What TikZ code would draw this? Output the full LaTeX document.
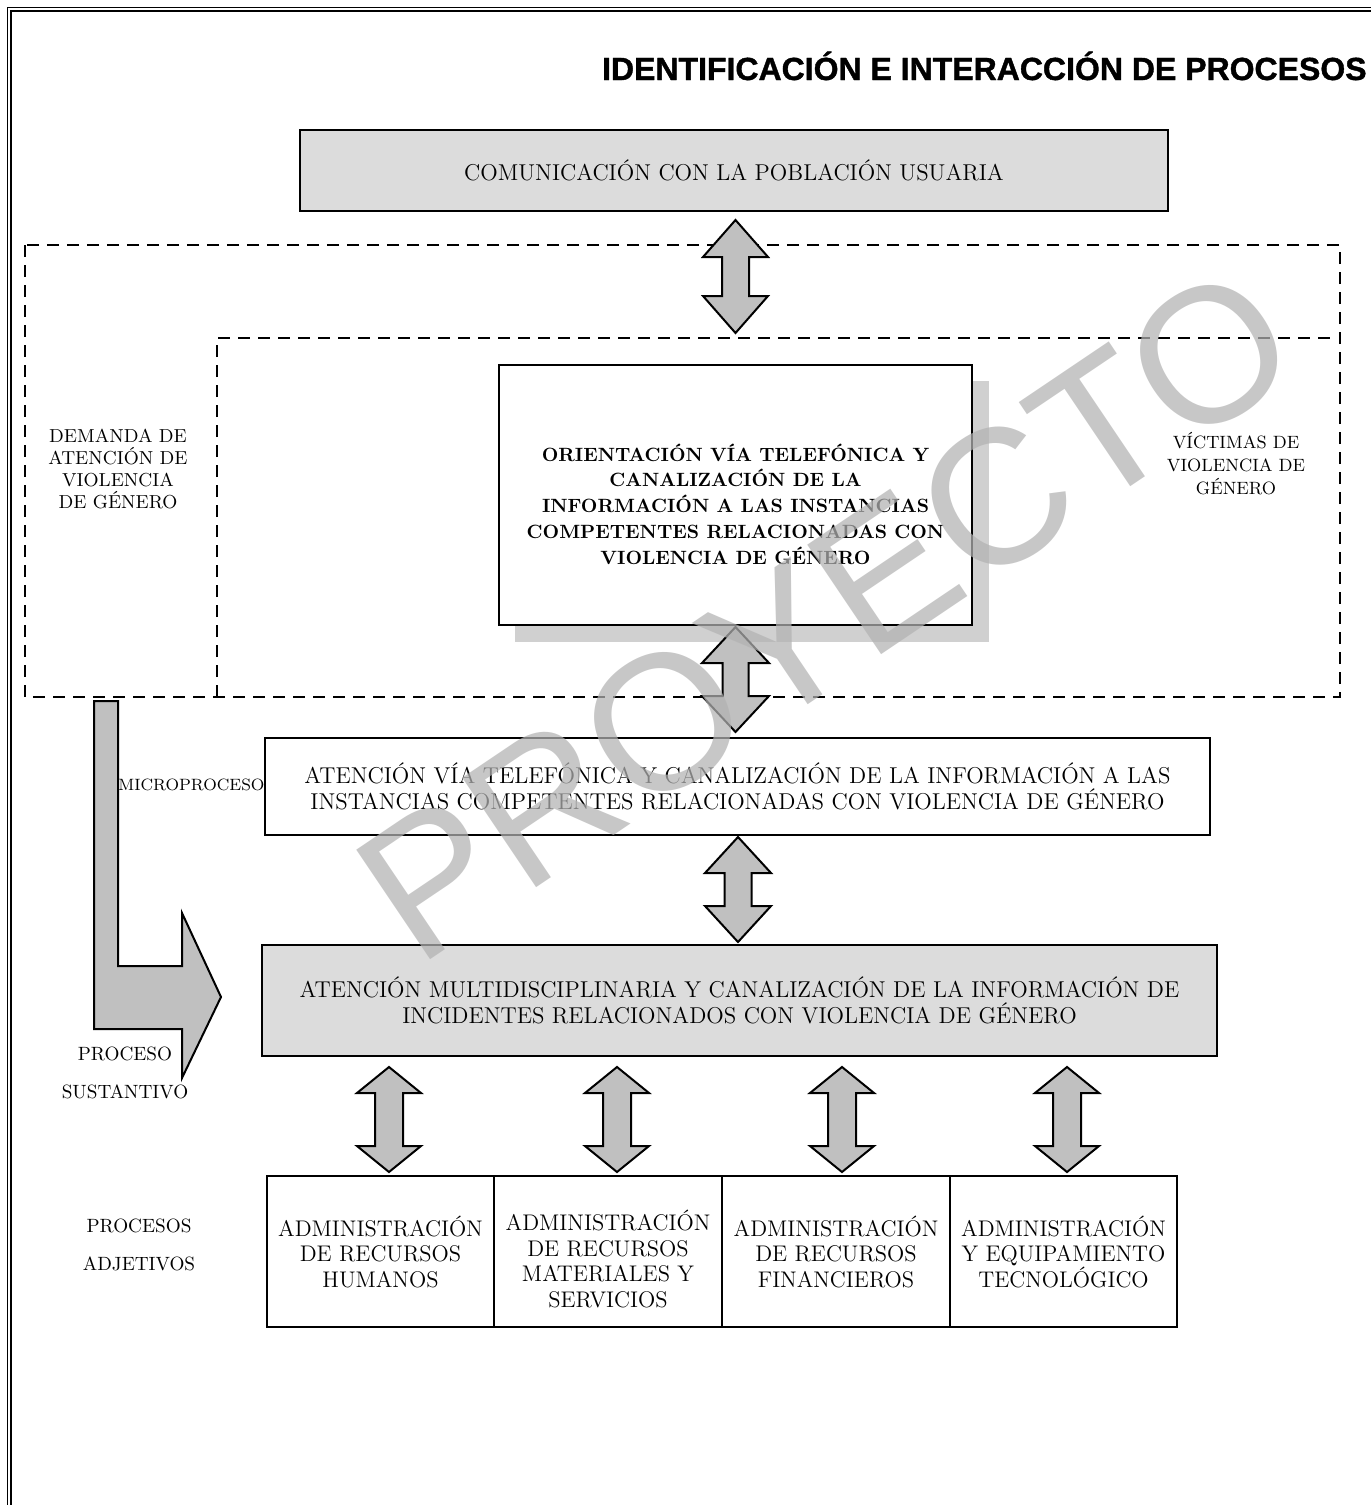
\documentclass[tikz,border=0pt]{standalone}
\usepackage{fontspec}
\newfontfamily\titlefont{Liberation Sans}[BoldFeatures={FakeBold=1.2}]
\newfontfamily\wmfont{Liberation Sans}
\usetikzlibrary{calc}
\definecolor{boxgray}{HTML}{DCDCDC}
\definecolor{arrgray}{HTML}{C0C0C0}
\definecolor{shadowgray}{HTML}{D0D0D0}
\definecolor{wmgray}{HTML}{B2B2B2}
% double-headed block arrow: #1 centre x, #2 top y, #3 bottom y, #4 head height, #5 head half width, #6 shaft half width
\newcommand\dblarr[6]{%
  \draw[blockarrow] (#1,#2) -- (#1+#5,#2+#4) -- (#1+#6,#2+#4) -- (#1+#6,#3-#4) -- (#1+#5,#3-#4)
    -- (#1,#3) -- (#1-#5,#3-#4) -- (#1-#6,#3-#4) -- (#1-#6,#2+#4) -- (#1-#5,#2+#4) -- cycle;}
\begin{document}
\begin{tikzpicture}[x=0.5pt,y=-0.5pt,
  frameline/.style={line width=0.6pt},
  dashbox/.style={line width=1.3pt, dash pattern=on 6pt off 4pt},
  graybox/.style={draw, line width=1.2pt, fill=boxgray, align=center, inner sep=0pt,
    font=\fontsize{11.45}{13}\selectfont},
  whitebox/.style={draw, line width=1.2pt, fill=white, align=center, inner sep=0pt,
    font=\fontsize{11.45}{13}\selectfont},
  admbox/.style={draw, line width=1.2pt, fill=white, align=center, inner sep=0pt,
    minimum height=75.5pt, font=\fontsize{11.3}{12.75}\selectfont},
  admtext/.style={align=center, inner sep=0pt, font=\fontsize{11.3}{12.75}\selectfont},
  sidelabel/.style={align=center, inner sep=0pt},
  blockarrow/.style={draw, line width=1pt, fill=arrgray, line join=miter},
  wm/.style={text=wmgray, text opacity=0.72, inner sep=0pt,
    font=\wmfont\fontsize{96}{96}\selectfont}
]
\useasboundingbox (0,0) rectangle (1371,1505);
\clip (0,0) rectangle (1371,1505);

% outer double frame
\draw[frameline] (7.5,1520) -- (7.5,7.5) -- (1390,7.5);
\draw[frameline] (11,1520) -- (11,11) -- (1390,11);

% title
\node[anchor=base east, inner sep=0pt, font=\titlefont\bfseries\fontsize{16}{19}\selectfont]
  (title) at (1367,80) {IDENTIFICACIÓN E INTERACCIÓN DE PROCESOS};

% dashed regions
\draw[dashbox] (25,245) rectangle (1340,697);
\draw[dashbox] (217,697) -- (217,338) -- (1333,338);

% top box
\node[graybox, line width=1.4pt, minimum width=434pt, minimum height=40.5pt] (comm) at (734,170.5)
  {COMUNICACIÓN CON LA POBLACIÓN USUARIA};

% shadowed central box
\fill[shadowgray] (515,381) rectangle (989,642);
\node[draw, line width=0.8pt, fill=white, minimum width=236.5pt, minimum height=130pt, inner sep=0pt]
  (orient) at (735.5,495) {};
\node[align=center, inner sep=0pt, font=\bfseries\fontsize{9.6}{12.9}\selectfont]
  (orienttext) at (735.5,504)
  {ORIENTACIÓN VÍA TELEFÓNICA Y\\CANALIZACIÓN DE LA\\INFORMACIÓN A LAS INSTANCIAS\\COMPETENTES RELACIONADAS CON\\VIOLENCIA DE GÉNERO};

% micro process box
\node[whitebox, minimum width=472.5pt, minimum height=48.5pt] (aten) at (737.5,786.5)
  {ATENCIÓN VÍA TELEFÓNICA Y CANALIZACIÓN DE LA INFORMACIÓN A LAS\\INSTANCIAS COMPETENTES RELACIONADAS CON VIOLENCIA DE GÉNERO};

% substantive process box
\node[graybox, minimum width=477.5pt, minimum height=55.5pt] (multi) at (739.5,1000.5)
  {ATENCIÓN MULTIDISCIPLINARIA Y CANALIZACIÓN DE LA INFORMACIÓN DE\\INCIDENTES RELACIONADOS CON VIOLENCIA DE GÉNERO};

% support processes
\node[admbox, minimum width=113.5pt] (adm1) at (380.5,1251.5) {ADMINISTRACIÓN\\DE RECURSOS\\HUMANOS};
\node[admbox, minimum width=114pt] (adm2) at (608,1251.5) {};
\node[admtext] (adm2text) at (608,1259) {ADMINISTRACIÓN\\DE RECURSOS\\MATERIALES Y\\SERVICIOS};
\node[admbox, minimum width=114pt] (adm3) at (836,1251.5) {ADMINISTRACIÓN\\DE RECURSOS\\FINANCIEROS};
\node[admbox, minimum width=113.5pt] (adm4) at (1063.5,1251.5) {ADMINISTRACIÓN\\Y EQUIPAMIENTO\\TECNOLÓGICO};

% double block arrows
\dblarr{735.5}{220}{333}{37}{32.5}{13.5}
\dblarr{735.5}{627}{732}{36}{33.5}{13}
\dblarr{738}{837}{942}{36}{33}{13.5}
\dblarr{389}{1067}{1172}{26}{32}{14}
\dblarr{617}{1067}{1172}{26}{32}{14}
\dblarr{842}{1067}{1172}{26}{32}{14}
\dblarr{1067}{1067}{1172}{26}{32}{14}

% bent arrow
\draw[blockarrow] (94,701) -- (118,701) -- (118,966) -- (182,966) -- (182,913) -- (221,997)
  -- (182,1078) -- (182,1029) -- (94,1029) -- cycle;

% side labels
\node[sidelabel, font=\fontsize{9.4}{11}\selectfont] (demanda) at (118,469)
  {DEMANDA DE\\ATENCIÓN DE\\VIOLENCIA\\DE GÉNERO};
\node[sidelabel, font=\fontsize{8.9}{11.5}\selectfont] (victimas) at (1236,464)
  {VÍCTIMAS DE\\VIOLENCIA DE\\GÉNERO};
\node[sidelabel, anchor=west, font=\fontsize{8.2}{10}\selectfont] (micro) at (118,785) {MICROPROCESO};
\node[sidelabel, font=\fontsize{9.6}{19}\selectfont] (sust) at (125,1073) {PROCESO\\SUSTANTIVO};
\node[sidelabel, font=\fontsize{9.6}{19}\selectfont] (adjet) at (139,1245) {PROCESOS\\ADJETIVOS};

% watermark
\node[wm, rotate=34] (wmark) at (826,613) {PROYECTO};
\end{tikzpicture}
\end{document}
